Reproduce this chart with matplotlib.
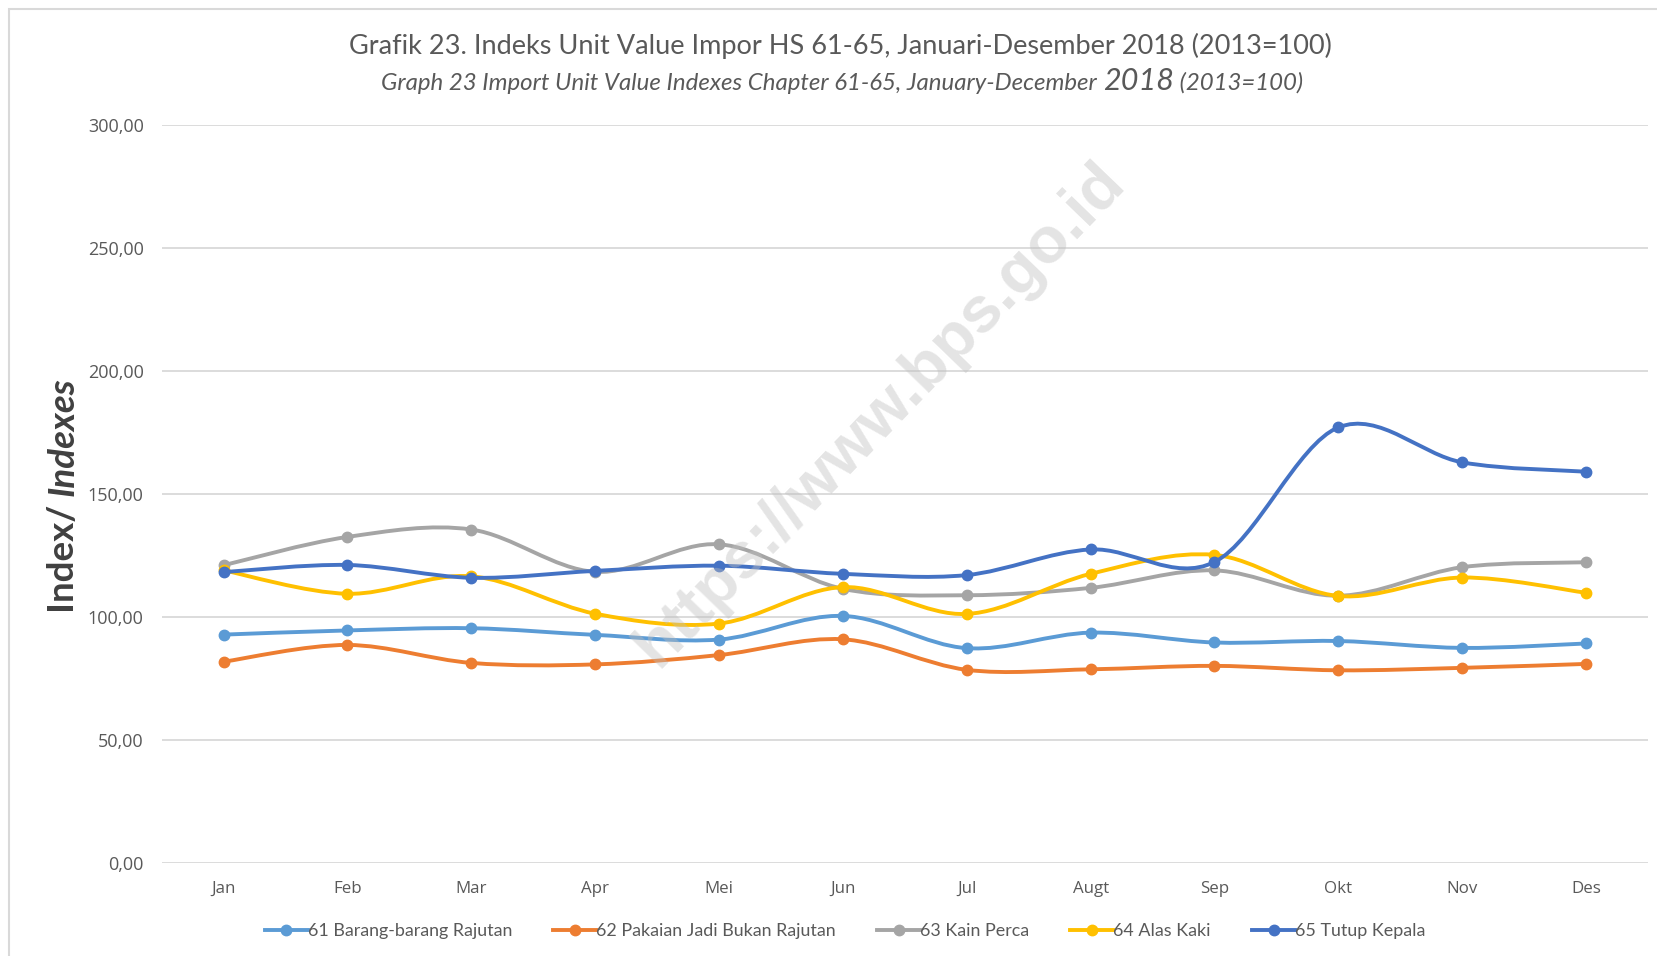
import numpy as np
import matplotlib
matplotlib.use("Agg")
import matplotlib.pyplot as plt
from matplotlib.path import Path
from matplotlib.patches import PathPatch, Rectangle
from matplotlib.lines import Line2D

# ---------------- data ----------------
months = ["Jan", "Feb", "Mar", "Apr", "Mei", "Jun", "Jul", "Augt", "Sep", "Okt", "Nov", "Des"]
s61 = [92.8, 94.5, 95.4, 92.7, 90.8, 100.4, 87.3, 93.6, 89.6, 90.2, 87.4, 89.2]
s62 = [81.8, 88.6, 81.3, 80.7, 84.5, 90.9, 78.5, 78.7, 80.1, 78.3, 79.3, 80.9]
s63 = [121.0, 132.5, 135.5, 118.3, 129.5, 111.4, 108.8, 111.8, 118.9, 108.6, 120.2, 122.2]
s64 = [118.9, 109.4, 116.5, 101.3, 97.3, 112.1, 101.2, 117.5, 125.2, 108.5, 116.0, 109.8]
s65 = [118.2, 121.1, 115.9, 118.7, 120.8, 117.5, 117.0, 127.4, 122.3, 177.0, 162.8, 159.0]
series_names = ["61 Barang-barang Rajutan", "62 Pakaian Jadi Bukan Rajutan",
                "63 Kain Perca", "64 Alas Kaki", "65 Tutup Kepala"]
yticks = [0, 50, 100, 150, 200, 250, 300]
ytick_labels = ["0,00", "50,00", "100,00", "150,00", "200,00", "250,00", "300,00"]

colors = ["#5B9BD5", "#ED7D31", "#A5A5A5", "#FFC000", "#4472C4"]
series = [s61, s62, s63, s64, s65]

W, H = 1657, 956
fig = plt.figure(figsize=(W / 100, H / 100), dpi=100)
fig.patch.set_facecolor("white")

# chart border (screenshot frame)
fig.patches.append(Rectangle((9 / W, -0.1), 1.2, 1 - 9 / H + 0.1, transform=fig.transFigure,
                             fill=False, edgecolor="#D9D9D9", linewidth=1.5))

left, right = 161.7 / W, 1648 / W
bottom, top = 1 - 863 / H, 1 - 124.7 / H
ax = fig.add_axes([left, bottom, right - left, top - bottom])

x = np.arange(len(months))
ax.set_xlim(-0.5, len(months) - 0.5)
ax.set_ylim(0, 300)
ax.set_yticks(yticks)
ax.set_yticklabels(ytick_labels)
ax.set_xticks(x)
ax.set_xticklabels(months)
for sp in ax.spines.values():
    sp.set_visible(False)
ax.grid(axis="y", color="#D9D9D9", linewidth=1.3)
ax.set_axisbelow(True)
ax.tick_params(axis="both", length=0, colors="#595959")
ax.tick_params(axis="y", pad=13, labelsize=13.0)
ax.tick_params(axis="x", pad=13, labelsize=12.2)
for lab in ax.get_yticklabels() + ax.get_xticklabels():
    lab.set_fontfamily("Open Sans")
    lab.set_color("#595959")


def smooth_path(xs, ys):
    pts = np.column_stack([xs, ys]).astype(float)
    n = len(pts)
    verts = [pts[0]]
    codes = [Path.MOVETO]
    for i in range(n - 1):
        p0 = pts[i - 1] if i > 0 else pts[i]
        p1 = pts[i]
        p2 = pts[i + 1]
        p3 = pts[i + 2] if i + 2 < n else pts[i + 1]
        c1 = p1 + (p2 - p0) / 6.0
        c2 = p2 - (p3 - p1) / 6.0
        verts += [c1, c2, p2]
        codes += [Path.CURVE4] * 3
    return Path(verts, codes)


for k, (vals, col) in enumerate(zip(series, colors)):
    patch = PathPatch(smooth_path(x, vals), facecolor="none", edgecolor=col,
                      linewidth=2.8, capstyle="round", joinstyle="round", zorder=3 + k)
    ax.add_patch(patch)
    ax.plot(x, vals, linestyle="none", marker="o", markersize=7.5, color=col, zorder=3 + k)

# watermark
fig.text(880 / W, 1 - 415 / H, "https://www.bps.go.id", rotation=46, ha="center", va="center",
         fontsize=47, fontweight="bold", family="Liberation Sans", color="#BFBFBF",
         alpha=0.42, zorder=20, rotation_mode="anchor")

# legend
handles = [Line2D([0], [0], color=c, lw=2.8, marker="o", markersize=7.5) for c in colors]
leg = fig.legend(handles, series_names, loc="center", bbox_to_anchor=(845 / W, 1 - 931 / H),
                 ncol=5, frameon=False, handlelength=2.4, handletextpad=0.0, columnspacing=2.3,
                 prop={"family": "Lato", "size": 12.9})
for t in leg.get_texts():
    t.set_color("#595959")

# titles
fig.text(840 / W, 1 - 46 / H, "Grafik 23. Indeks Unit Value Impor HS 61-65, Januari-Desember 2018 (2013=100)",
         ha="center", va="center", fontsize=19.5, family="Lato", color="#595959")

renderer = fig.canvas.get_renderer()


def draw_pieces_h(pieces, cx, cy):
    objs = []
    widths = []
    for txt, kw in pieces:
        t = fig.text(0, 0, txt, ha="left", va="baseline", transform=None, **kw)
        bb = t.get_window_extent(renderer)
        objs.append(t)
        widths.append(bb.width)
    total = sum(widths)
    xs = cx - total / 2
    for t, w in zip(objs, widths):
        t.set_position((xs, cy))
        xs += w


sub_kw = dict(fontsize=17.3, family="Lato", style="italic", color="#595959")
big_kw = dict(fontsize=22, family="Lato", style="italic", color="#595959")
draw_pieces_h([("Graph 23 Import Unit Value Indexes Chapter 61-65, January-December ", sub_kw),
               ("2018", big_kw),
               (" (2013=100)", sub_kw)], 842, H - 90)


def draw_pieces_v(pieces, cx, cy):
    objs = []
    heights = []
    for txt, kw in pieces:
        t = fig.text(0, 0, txt, ha="left", va="center", rotation=90, transform=None,
                     rotation_mode="anchor", **kw)
        bb = t.get_window_extent(renderer)
        objs.append(t)
        heights.append(bb.height)
    total = sum(heights)
    ys = cy - total / 2
    for t, h in zip(objs, heights):
        t.set_position((cx, ys))
        ys += h


yl_kw = dict(fontsize=26.5, family="Lato", fontweight="bold", color="#404040")
yl_it = dict(fontsize=26.5, family="Lato", fontweight="bold", style="italic", color="#404040")
draw_pieces_v([("Index/ ", yl_kw), ("Indexes", yl_it)], 63, H - 495)

fig.savefig("out.png", dpi=100)
